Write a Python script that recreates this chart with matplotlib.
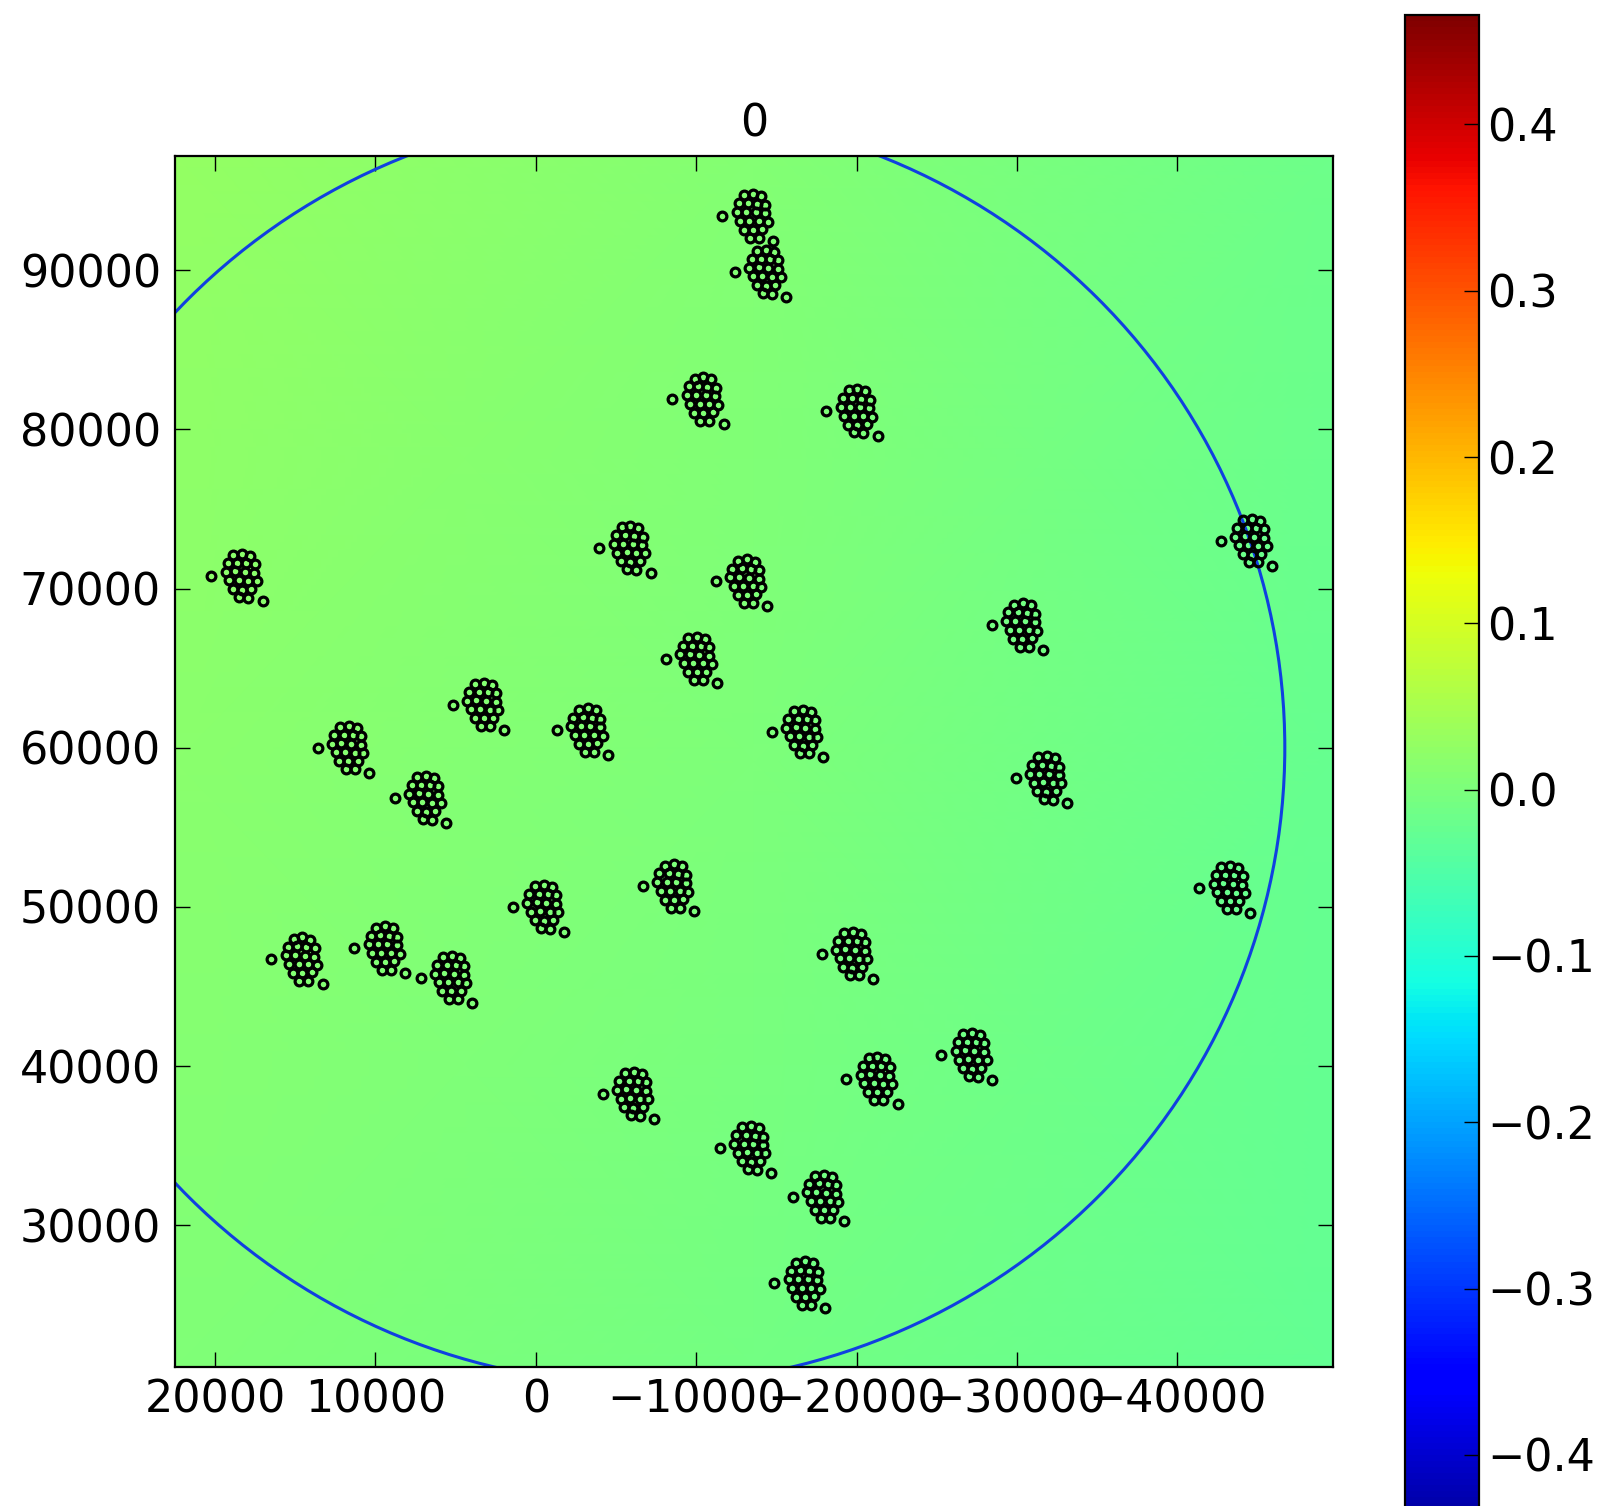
import numpy as np
import matplotlib
matplotlib.use("Agg")
import matplotlib.pyplot as plt
from matplotlib.patches import Circle

# ---------------- data ----------------
title_text = "0"
vlim = 0.4656

# background field (coarse grid, top row first, left -> right)
field_x = [22500, -13600, -49700]
field_y = [97180, 59100, 21090]
field_vals = [
    [0.028, 0.010, -0.017],
    [0.016, 0.000, -0.022],
    [0.006, -0.010, -0.028],
]

# big circle
circle_center = (-6700, 60000)
circle_radius = 40000

# station-group centres (x, y)
group_x = [-13500, -14300, -10400, -20000, 18350, -5850, -13100, -44600, -30300,
           -10000, 3300, -3200, 11720, -16600, -31800, 6900, -8550, -450,
           -43250, 14600, 9450, 5300, -19700, -27150, -21250, -6050, -13350,
           -17900, -16750]
group_y = [93400, 89900, 81900, 81150, 70800, 72550, 70450, 73000, 67700,
           65600, 62700, 61100, 60000, 61000, 58100, 56850, 51300, 50000,
           51200, 46700, 47400, 45550, 47050, 40700, 39200, 38250, 34850,
           31800, 26350]

# station offsets inside one group (same layout repeated)
station_dx = [500, -50, -550,
              850, 260, -300, -820,
              980, 400, -200, -800,
              760, 180, -420, -960,
              520, -40, -620,
              140, -420,
              1880, -1310]
station_dy = [1300, 1380, 1250,
              800, 820, 780, 720,
              260, 280, 240, 180,
              -290, -280, -300, -340,
              -840, -860, -820,
              -1340, -1360,
              0, -1560]

xticks = [20000, 10000, 0, -10000, -20000, -30000, -40000]
yticks = [30000, 40000, 50000, 60000, 70000, 80000, 90000]
cbar_ticks = [-0.4, -0.3, -0.2, -0.1, 0.0, 0.1, 0.2, 0.3, 0.4]
xlim = (22500, -49700)
ylim = (21090, 97180)

# ---------------- figure ----------------
fs = 32
fig = plt.figure(figsize=(15.99, 15.06), dpi=100, facecolor="white")
ax = fig.add_axes([0.1094, 0.0923, 0.7242, 0.8041])
cax = fig.add_axes([0.8787, -0.0385, 0.0463, 1.0283])

X, Y = np.meshgrid(field_x, field_y)
mesh = ax.pcolormesh(X, Y, np.array(field_vals), shading="gouraud",
                     cmap="jet", vmin=-vlim, vmax=vlim, zorder=0)

circ = Circle(circle_center, circle_radius, fill=False, edgecolor="#1040e0",
              linewidth=2.2, zorder=2)
ax.add_patch(circ)

gx = np.array(group_x)[:, None]
gy = np.array(group_y)[:, None]
px = (gx + np.array(station_dx)[None, :]).ravel()
py = (gy + np.array(station_dy)[None, :]).ravel()
ax.plot(px, py, linestyle="none", marker="o", markersize=6.3,
        markerfacecolor="none", markeredgecolor="black", markeredgewidth=2.3,
        zorder=3)

ax.set_xlim(*xlim)
ax.set_ylim(*ylim)
ax.set_xticks(xticks)
ax.set_yticks(yticks)
ax.set_xticklabels([f"{t:d}".replace("-", "\u2212") for t in xticks])
ax.set_yticklabels([f"{t:d}" for t in yticks])
ax.tick_params(direction="in", top=True, right=True, length=11, width=1.0,
               labelsize=fs)
ax.tick_params(axis="x", pad=8)
ax.tick_params(axis="y", pad=10)
for sp in ax.spines.values():
    sp.set_linewidth(1.6)
ax.set_title(title_text, fontsize=fs, pad=14)

cb = fig.colorbar(mesh, cax=cax, ticks=cbar_ticks)
cb.ax.tick_params(direction="in", length=11, width=1.0, labelsize=fs, pad=6)
cb.outline.set_linewidth(1.6)
cb.ax.set_yticklabels([f"{t:.1f}".replace("-", "\u2212") for t in cbar_ticks])

fig.savefig("out.png", dpi=100, facecolor="white")
